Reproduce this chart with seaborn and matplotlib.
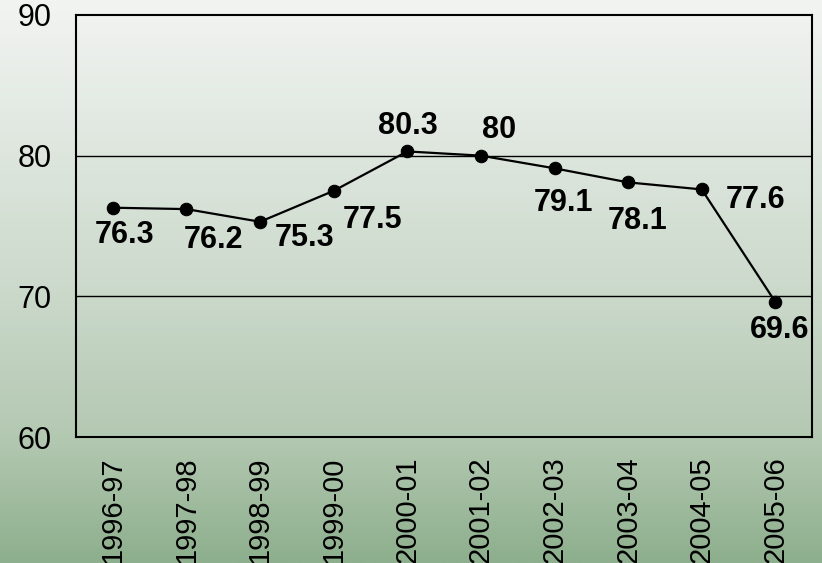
import numpy as np
import pandas as pd
import matplotlib
matplotlib.use("Agg")
import matplotlib.pyplot as plt
from matplotlib.colors import LinearSegmentedColormap
import seaborn as sns

# data
seasons = ["1996-97", "1997-98", "1998-99", "1999-00", "2000-01",
           "2001-02", "2002-03", "2003-04", "2004-05", "2005-06"]
values = [76.3, 76.2, 75.3, 77.5, 80.3, 80.0, 79.1, 78.1, 77.6, 69.6]
labels = ["76.3", "76.2", "75.3", "77.5", "80.3", "80", "79.1", "78.1", "77.6", "69.6"]
y_ticks = [60, 70, 80, 90]

# label placement (offset in points from the marker)
label_offsets = [(8.6, -20), (19.4, -22.3), (31.7, -11.5), (28, -21), (0.7, 18.5),
                 (13, 18.5), (6.5, -25.3), (7.2, -28), (38.9, -7.3), (2.9, -20)]

sns.set_style("white")
plt.rcParams["font.family"] = ["Liberation Sans", "DejaVu Sans"]
plt.rcParams["text.color"] = "black"
plt.rcParams["xtick.color"] = "black"
plt.rcParams["ytick.color"] = "black"

df = pd.DataFrame({"season": seasons, "value": values})

fig = plt.figure(figsize=(8.22, 5.63), dpi=100)

# gradient background over the whole figure
bg = fig.add_axes([0, 0, 1, 1], zorder=-10)
cmap = LinearSegmentedColormap.from_list(
    "bg", [(0.0, "#f2f4f2"), (0.52, "#cbd9cb"), (0.78, "#b3c8b1"), (1.0, "#8daf8d")])
grad = np.linspace(0, 1, 256).reshape(-1, 1)
bg.imshow(grad, aspect="auto", cmap=cmap, extent=[0, 1, 0, 1])
bg.axis("off")

ax = fig.add_axes([0.0925, 0.2238, 0.8955, 0.7496])
ax.patch.set_alpha(0)

sns.lineplot(data=df, x="season", y="value", ax=ax, color="black",
             linewidth=1.6, marker="o", markersize=9, markeredgecolor="black",
             sort=False)

for i, (lab, off) in enumerate(zip(labels, label_offsets)):
    ax.annotate(lab, (i, values[i]), xytext=off, textcoords="offset points",
                ha="center", va="center", fontsize=22, fontweight="bold",
                color="black")

ax.set_ylim(60, 90)
ax.set_xlim(-0.5, len(seasons) - 0.5)
ax.set_yticks(y_ticks)
ax.set_yticklabels([str(t) for t in y_ticks], fontsize=22)
ax.set_xticks(range(len(seasons)))
ax.set_xticklabels(seasons, rotation=90, fontsize=21)
ax.set_xticks(np.arange(-0.5, len(seasons)), minor=True)
ax.tick_params(axis="x", which="major", length=0, pad=14)
ax.tick_params(axis="x", which="minor", length=6, width=1.3, direction="out")
ax.tick_params(axis="y", length=6.5, width=1.3, direction="out", pad=11)
ax.set_xlabel("")
ax.set_ylabel("")

for yv in [70, 80]:
    ax.axhline(yv, color="black", linewidth=1.0, zorder=0)

for s in ax.spines.values():
    s.set_visible(True)
    s.set_color("black")
    s.set_linewidth(1.5)

fig.savefig("out.png", dpi=100)
